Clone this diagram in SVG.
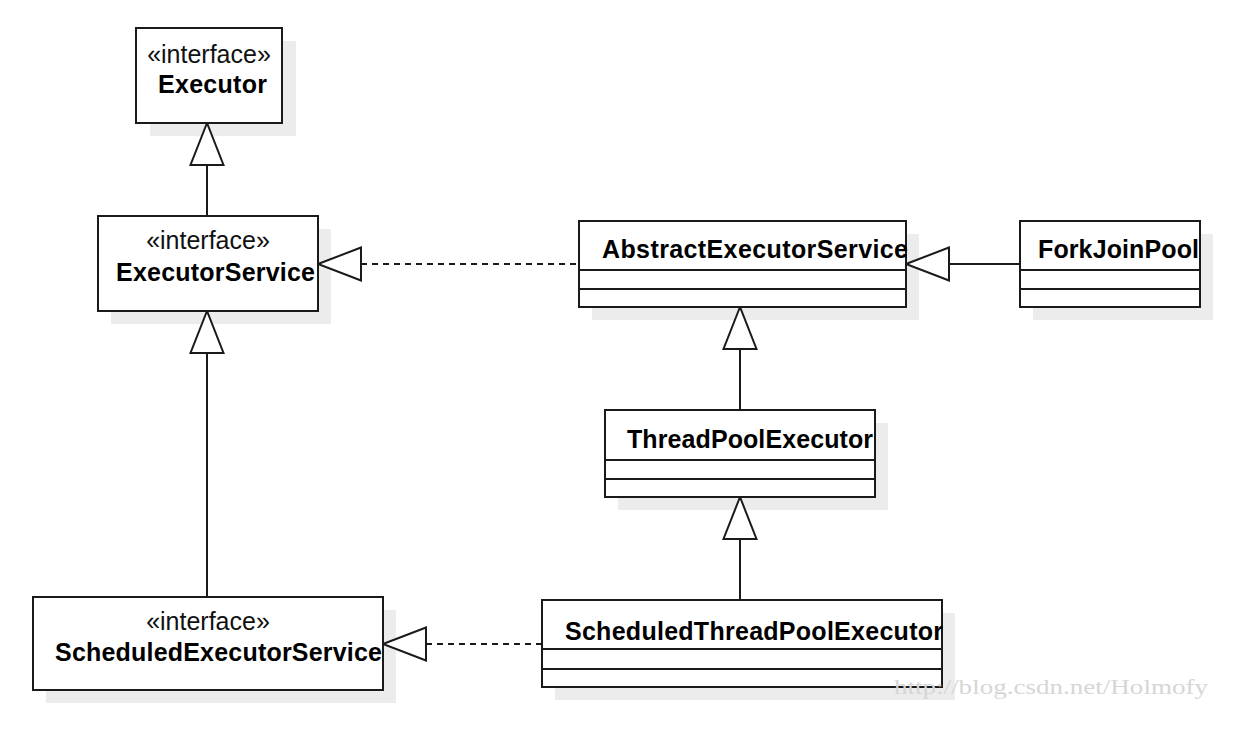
<svg xmlns="http://www.w3.org/2000/svg" width="1247" height="730" viewBox="0 0 1247 730">
<style>
.shadow{fill:#ececec;stroke:none}
.box{fill:#ffffff;stroke:#1a1a1a;stroke-width:2}
.sep{stroke:#1a1a1a;stroke-width:2;fill:none}
.st{font-family:"Liberation Sans",Arial,sans-serif;font-size:25px;fill:#111;text-anchor:middle}
.nm{font-family:"Liberation Sans",Arial,sans-serif;font-size:25px;font-weight:bold;fill:#000}
.ln{stroke:#1a1a1a;stroke-width:2;fill:none}
.dash{stroke:#1a1a1a;stroke-width:2;fill:none;stroke-dasharray:6 5}
.tri{fill:#ffffff;stroke:#1a1a1a;stroke-width:2;stroke-linejoin:miter}
.wm{font-family:"Liberation Serif","Times New Roman",serif;font-size:22px;fill:#d6d6d6}
</style>
<rect class="shadow" x="150" y="41" width="146" height="95"/>
<rect class="shadow" x="111" y="229" width="220" height="95"/>
<rect class="shadow" x="46" y="610" width="350" height="93"/>
<rect class="shadow" x="592" y="234" width="327" height="86"/>
<rect class="shadow" x="1033" y="234" width="180" height="86"/>
<rect class="shadow" x="618" y="423" width="270" height="87"/>
<rect class="shadow" x="555" y="613" width="400" height="87"/>
<g id="connectors">
<line class="ln" x1="207" y1="216" x2="207" y2="165"/>
<polygon class="tri" points="207,123 190.5,165 223.5,165"/>
<line class="ln" x1="207" y1="597" x2="207" y2="353"/>
<polygon class="tri" points="207,311 190.5,353 223.5,353"/>
<line class="dash" x1="361" y1="264" x2="579" y2="264"/>
<polygon class="tri" points="318,264 361,247.5 361,280.5"/>
<line class="ln" x1="949" y1="264" x2="1020" y2="264"/>
<polygon class="tri" points="906,264 949,247.5 949,280.5"/>
<line class="ln" x1="740" y1="349" x2="740" y2="410"/>
<polygon class="tri" points="740,307 723.5,349 756.5,349"/>
<line class="ln" x1="740" y1="539" x2="740" y2="600"/>
<polygon class="tri" points="740,497 723.5,539 756.5,539"/>
<line class="dash" x1="426" y1="644" x2="542" y2="644"/>
<polygon class="tri" points="383,644 426,627.5 426,660.5"/>
</g>
<g id="Executor">
<rect class="box" x="136" y="28" width="146" height="95"/>
<text class="st" x="209" y="63">«interface»</text>
<text class="nm" x="158" y="93" textLength="109" lengthAdjust="spacing">Executor</text>
</g>
<g id="ExecutorService">
<rect class="box" x="98" y="216" width="220" height="95"/>
<text class="st" x="208" y="249">«interface»</text>
<text class="nm" x="116" y="281" textLength="199" lengthAdjust="spacing">ExecutorService</text>
</g>
<g id="ScheduledExecutorService">
<rect class="box" x="33" y="597" width="350" height="93"/>
<text class="st" x="208" y="630">«interface»</text>
<text class="nm" x="55" y="661" textLength="327" lengthAdjust="spacing">ScheduledExecutorService</text>
</g>
<g id="AbstractExecutorService">
<rect class="box" x="579" y="221" width="327" height="86"/>
<line class="sep" x1="579" y1="270" x2="906" y2="270"/>
<line class="sep" x1="579" y1="289" x2="906" y2="289"/>
<text class="nm" x="602" y="258" textLength="306" lengthAdjust="spacing">AbstractExecutorService</text>
</g>
<g id="ForkJoinPool">
<rect class="box" x="1020" y="221" width="180" height="86"/>
<line class="sep" x1="1020" y1="270" x2="1200" y2="270"/>
<line class="sep" x1="1020" y1="289" x2="1200" y2="289"/>
<text class="nm" x="1038" y="258" textLength="161" lengthAdjust="spacing">ForkJoinPool</text>
</g>
<g id="ThreadPoolExecutor">
<rect class="box" x="605" y="410" width="270" height="87"/>
<line class="sep" x1="605" y1="460" x2="875" y2="460"/>
<line class="sep" x1="605" y1="479" x2="875" y2="479"/>
<text class="nm" x="627" y="448" textLength="246" lengthAdjust="spacing">ThreadPoolExecutor</text>
</g>
<g id="ScheduledThreadPoolExecutor">
<rect class="box" x="542" y="600" width="400" height="87"/>
<line class="sep" x1="542" y1="649" x2="942" y2="649"/>
<line class="sep" x1="542" y1="669" x2="942" y2="669"/>
<text class="nm" x="565" y="640" textLength="378" lengthAdjust="spacing">ScheduledThreadPoolExecutor</text>
</g>
<text class="wm" x="894" y="694" textLength="314" lengthAdjust="spacingAndGlyphs">http://blog.csdn.net/Holmofy</text>
</svg>
